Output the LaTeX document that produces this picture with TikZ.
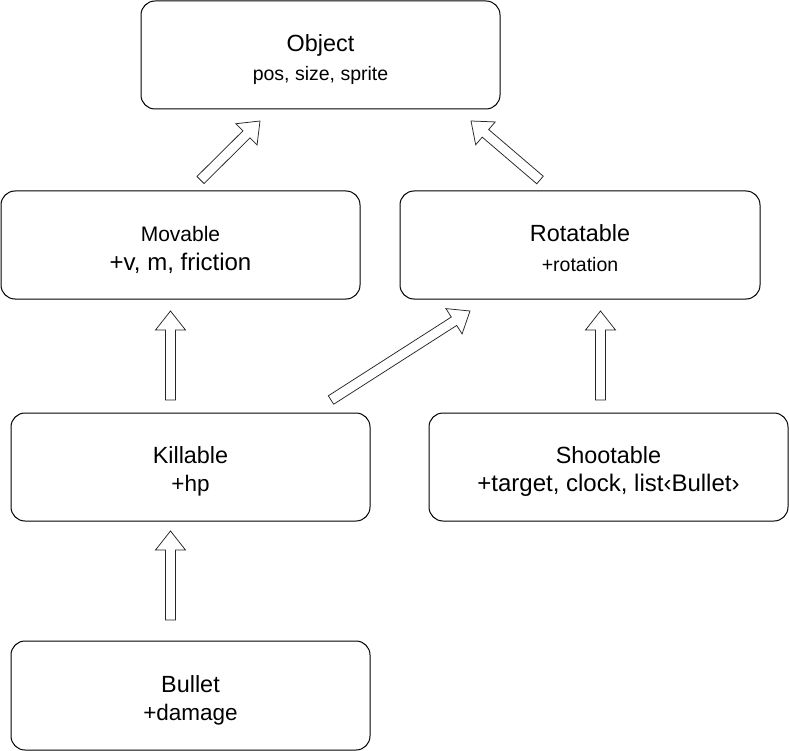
\documentclass[tikz,border=0pt]{standalone}
\usepackage{fontspec}
\setmainfont{Liberation Sans}
\usetikzlibrary{calc}
\tikzset{
  box/.style={draw=black, line width=1pt, fill=white, rounded corners=14pt, minimum width=359pt, minimum height=108pt, inner sep=0pt},
  title/.style={anchor=base, inner sep=0pt, font=\fontsize{23.4}{28}\selectfont},
  big/.style={anchor=base, inner sep=0pt, font=\fontsize{22.5}{27}\selectfont},
  huge/.style={anchor=base, inner sep=0pt, font=\fontsize{24}{29}\selectfont},
  mid/.style={anchor=base, inner sep=0pt, font=\fontsize{21}{25}\selectfont},
  small/.style={anchor=base, inner sep=0pt, font=\fontsize{19.5}{23}\selectfont},
  blockarr/.style={draw=black!85, line width=0.75pt, fill=white, line join=miter},
}
\newcommand\blockarrow[2]{%
  \coordinate (ba-n) at ($(#2)!19pt!(#1)$);
  \draw[blockarr] ($(#1)!5pt!90:(#2)$) -- ($(ba-n)!5pt!90:(#2)$) -- ($(ba-n)!15pt!90:(#2)$) -- (#2)
    -- ($(ba-n)!15pt!-90:(#2)$) -- ($(ba-n)!5pt!-90:(#2)$) -- ($(#1)!5pt!-90:(#2)$) -- cycle;
}
\begin{document}
\begin{tikzpicture}[x=1pt,y=-1pt]
\useasboundingbox[fill=white] (0,0) rectangle (789,751);
% boxes
\node[box] (obj) at (320.5,55) {};
\node[box] (mov) at (180.5,245) {};
\node[box, minimum width=360pt] (rot) at (580,245) {};
\node[box] (kil) at (190.5,467) {};
\node[box] (sho) at (608.5,467) {};
\node[box, minimum height=109pt] (bul) at (190.5,695.5) {};
% texts
\node[title] (objT) at (320.5,52) {Object};
\node[small] (objA) at (320.5,80.5) {pos, size, sprite};
\node[mid] (movT) at (180.5,242) {Movable};
\node[huge] (movA) at (180.5,270) {+v, m, friction};
\node[title] (rotT) at (580,242) {Rotatable};
\node[small] (rotA) at (580,271) {+rotation};
\node[title] (kilT) at (190.5,463) {Killable};
\node[big] (kilA) at (190.5,491) {+hp};
\node[title] (shoT) at (608.5,463) {Shootable};
\node[huge] (shoA) at (608.5,491) {+target, clock, list‹Bullet›};
\node[title] (bulT) at (190.5,692) {Bullet};
\node[big] (bulA) at (190.5,720) {+damage};
% arrow end points
\coordinate (m2o-s) at (200.5,180);
\coordinate (m2o-e) at (260,121);
\coordinate (r2o-s) at (540,180);
\coordinate (r2o-e) at (471,121);
\coordinate (k2m-s) at (170.5,400);
\coordinate (k2m-e) at (170.5,311);
\coordinate (k2r-s) at (331,400);
\coordinate (k2r-e) at (470,311);
\coordinate (s2r-s) at (600.5,400);
\coordinate (s2r-e) at (600.5,311);
\coordinate (b2k-s) at (170.5,620);
\coordinate (b2k-e) at (170.5,531);
\blockarrow{m2o-s}{m2o-e}
\blockarrow{r2o-s}{r2o-e}
\blockarrow{k2m-s}{k2m-e}
\blockarrow{k2r-s}{k2r-e}
\blockarrow{s2r-s}{s2r-e}
\blockarrow{b2k-s}{b2k-e}
\end{tikzpicture}
\end{document}
